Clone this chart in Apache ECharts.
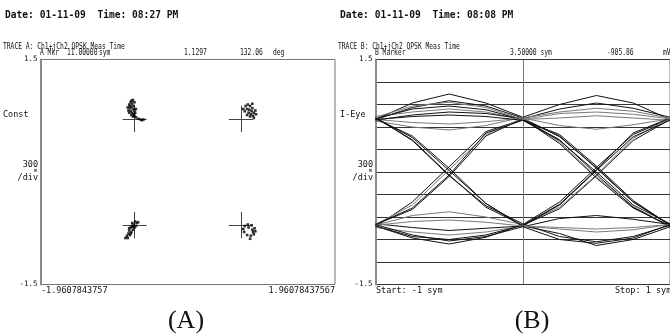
<!DOCTYPE html>
<html><head><meta charset="utf-8">
<script src="https://cdn.jsdelivr.net/npm/echarts@6/dist/echarts.min.js"></script>
<style>html,body{margin:0;padding:0;background:#fff}#c{width:670px;height:336px}</style>
</head><body><div id="c"></div>
<script>
// ---------- data ----------
const symbolTimes = [-1, -0.75, -0.5, -0.25, 0, 0.25, 0.5, 0.75, 1];
const eyeTraces = [
  [0.70, 0.86, 0.95, 0.88, 0.72, 0.47, 0.06, -0.40, -0.70],
  [0.72, 0.43, -0.04, -0.47, -0.71, -0.49, -0.05, 0.42, 0.70],
  [-0.70, -0.50, -0.06, 0.48, 0.71, 0.84, 0.92, 0.85, 0.73],
  [-0.72, -0.88, -0.96, -0.87, -0.70, -0.40, 0.06, 0.50, 0.71],
  [0.68, 0.60, 0.56, 0.62, 0.73, 0.40, -0.06, -0.46, -0.72],
  [0.74, 0.80, 0.84, 0.80, 0.70, 0.72, 0.75, 0.72, 0.69],
  [-0.69, -0.74, -0.78, -0.75, -0.72, -0.82, -0.98, -0.90, -0.73],
  [0.71, 0.48, 0.05, -0.42, -0.73, -0.62, -0.58, -0.63, -0.70],
  [-0.73, -0.40, 0.07, 0.54, 0.70, 0.48, 0.05, -0.40, -0.71],
  [0.70, 0.92, 1.04, 0.92, 0.73, 0.90, 1.02, 0.92, 0.70],
  [-0.71, -0.58, -0.53, -0.60, -0.70, -0.47, -0.04, 0.45, 0.72],
  [0.69, 0.76, 0.80, 0.78, 0.71, 0.38, -0.08, -0.48, -0.72],
  [-0.70, -0.44, 0.03, 0.50, 0.72, 0.62, 0.57, 0.63, 0.71],
  [0.73, 0.42, -0.05, -0.45, -0.69, -0.86, -0.93, -0.86, -0.71],
  [-0.74, -0.80, -0.84, -0.80, -0.72, -0.76, -0.80, -0.77, -0.70],
  [0.70, 0.66, 0.64, 0.67, 0.72, 0.80, 0.85, 0.81, 0.72],
  [-0.70, -0.48, -0.04, 0.52, 0.69, 0.42, 0.00, -0.44, -0.69],
  [0.72, 0.46, 0.02, -0.42, -0.72, -0.44, 0.02, 0.47, 0.69],
  [-0.72, -0.86, -0.90, -0.84, -0.71, -0.43, 0.03, 0.52, 0.72],
  [0.71, 0.84, 0.88, 0.83, 0.70, 0.43, -0.03, -0.47, -0.73],
  [0.70, 0.74, 0.76, 0.74, 0.69, 0.50, 0.08, -0.38, -0.71],
  [-0.71, -0.66, -0.64, -0.67, -0.72, -0.74, -0.76, -0.74, -0.70],
  [0.73, 0.88, 0.93, 0.86, 0.70, 0.78, 0.80, 0.77, 0.71],
  [-0.70, -0.84, -0.92, -0.86, -0.73, -0.90, -0.95, -0.88, -0.70]
];
const eyeTraceGray = [4, 5, 10, 12, 14, 15, 21, 22];

const idealPoints = [[-0.707, 0.707], [0.707, 0.707], [-0.707, -0.707], [0.707, -0.707]];
const constPoints = [
  // upper-left
  [-0.80,0.86],[-0.78,0.90],[-0.76,0.93],[-0.74,0.91],[-0.72,0.88],[-0.79,0.82],[-0.77,0.85],[-0.75,0.87],
  [-0.73,0.84],[-0.71,0.82],[-0.78,0.79],[-0.76,0.81],[-0.74,0.79],[-0.72,0.77],[-0.70,0.79],[-0.75,0.76],
  [-0.73,0.74],[-0.71,0.75],[-0.69,0.73],[-0.77,0.88],[-0.75,0.95],[-0.73,0.96],[-0.71,0.93],[-0.69,0.84],
  [-0.66,0.71],[-0.63,0.70],[-0.61,0.69],[-0.59,0.70],
  // upper-right
  [0.77,0.88],[0.80,0.90],[0.83,0.88],[0.86,0.85],[0.79,0.84],[0.82,0.83],[0.85,0.81],[0.88,0.79],
  [0.76,0.81],[0.81,0.79],[0.84,0.77],[0.87,0.75],[0.90,0.82],[0.79,0.76],[0.83,0.74],[0.88,0.72],
  [0.74,0.84],[0.91,0.77],[0.86,0.91],
  // lower-left
  [-0.70,-0.66],[-0.68,-0.68],[-0.72,-0.70],[-0.74,-0.72],[-0.71,-0.74],[-0.76,-0.74],[-0.73,-0.77],
  [-0.78,-0.78],[-0.75,-0.80],[-0.79,-0.82],[-0.77,-0.84],[-0.81,-0.85],[-0.80,-0.88],[-0.83,-0.88],
  [-0.69,-0.72],[-0.66,-0.67],[-0.74,-0.68],[-0.76,-0.82],[-0.78,-0.75],[-0.73,-0.73],
  // lower-right
  [0.76,-0.72],[0.80,-0.70],[0.85,-0.71],[0.89,-0.75],[0.90,-0.79],[0.88,-0.83],[0.84,-0.85],
  [0.79,-0.84],[0.75,-0.80],[0.74,-0.76],[0.86,-0.77],[0.87,-0.80],[0.83,-0.89],[0.81,-0.74]
];

const yMin = -1.5, yMax = 1.5, yStep = 0.3;
const xMinA = -1.9607843757, xMaxA = 1.96078437567;
const xLabelsA = ['-1.9607843757', '1.96078437567'];
const xLabelsB = ['Start: -1 sym', 'Stop: 1 sym'];
const headerA = 'Date: 01-11-09  Time: 08:27 PM';
const headerB = 'Date: 01-11-09  Time: 08:08 PM';
const traceTitleA = 'TRACE A: Ch1+jCh2 QPSK Meas Time';
const traceTitleB = 'TRACE B: Ch1+jCh2 QPSK Meas Time';
const markerA = ['A Mkr', '11.00000', 'sym', '1.1297', '132.06', 'deg'];
const markerB = ['B Marker', '3.50000 sym', '-905.86', 'mV'];
const yNameA = 'Const', yNameB = 'I-Eye';
const scaleLabel = ['300', 'm', '/div'];
const panelLabels = ['(A)', '(B)'];

// ---------- chart ----------
const MONO = 'DejaVu Sans Mono';
function txt(text, x, y, opt) {
  opt = opt || {};
  return { type: 'text', x: x, y: y, silent: true, scaleX: opt.sx || 1,
    style: { text: text, fill: '#111', font: (opt.bold ? 'bold ' : '') + (opt.size || 8) + 'px ' + (opt.family || MONO),
      align: opt.align || 'left', verticalAlign: 'middle' } };
}
const small = (t, x, y, a) => txt(t, x, y, { size: 8, sx: 0.79, align: a });
const mid = (t, x, y, a) => txt(t, x, y, { size: 8.5, align: a });
const yLabelFmt = v => (Math.abs(v - yMax) < 1e-6 ? String(yMax) : (Math.abs(v - yMin) < 1e-6 ? String(yMin) : ''));

const crossD = 0.16;
const crossLines = [];
idealPoints.forEach(p => {
  crossLines.push({ coords: [[p[0] - crossD, p[1]], [p[0] + crossD, p[1]]] });
  crossLines.push({ coords: [[p[0], p[1] - crossD * 1.1], [p[0], p[1] + crossD * 1.1]] });
});

const series = [
  { type: 'lines', coordinateSystem: 'cartesian2d', xAxisIndex: 0, yAxisIndex: 0, data: crossLines,
    lineStyle: { color: '#444', width: 1, opacity: 1 }, silent: true, z: 3 },
  { type: 'scatter', xAxisIndex: 0, yAxisIndex: 0, data: constPoints, symbol: 'rect', symbolSize: 2.6,
    itemStyle: { color: '#000' }, silent: true, z: 4 }
];
eyeTraces.forEach((tr, i) => {
  series.push({ type: 'line', xAxisIndex: 1, yAxisIndex: 1, showSymbol: false, silent: true,
    data: tr.map((v, k) => [symbolTimes[k], v]),
    lineStyle: { color: eyeTraceGray.indexOf(i) >= 0 ? '#7a7a7a' : '#111', width: 1 }, z: 3 });
});

const axisCommonY = {
  type: 'value', min: yMin, max: yMax, interval: yStep,
  axisLine: { show: true, onZero: false, lineStyle: { color: '#8a8a8a', width: 2 } },
  axisTick: { show: false },
  axisLabel: { formatter: yLabelFmt, fontSize: 7.5, fontFamily: MONO, color: '#111', margin: 3 }
};

const option = {
  animation: false,
  backgroundColor: '#fff',
  grid: [
    { left: 40.5, right: 335, top: 59.5, bottom: 51.5, show: true, borderColor: '#777', borderWidth: 1, backgroundColor: '#fff' },
    { left: 375.5, right: -1, top: 59.5, bottom: 51.5, show: true, borderColor: '#777', borderWidth: 1, backgroundColor: '#fff' }
  ],
  xAxis: [
    { type: 'value', gridIndex: 0, min: xMinA, max: xMaxA, axisLine: { show: false }, axisTick: { show: false },
      axisLabel: { show: false }, splitLine: { show: false } },
    { type: 'value', gridIndex: 1, min: -1, max: 1, interval: 1, axisLine: { show: false }, axisTick: { show: false },
      axisLabel: { show: false }, splitLine: { show: true, lineStyle: { color: '#777', width: 1 } } }
  ],
  yAxis: [
    Object.assign({}, axisCommonY, { gridIndex: 0, splitLine: { show: false } }),
    Object.assign({}, axisCommonY, { gridIndex: 1, splitLine: { show: true, lineStyle: { color: '#333', width: 1 } } })
  ],
  series: series,
  graphic: [
    txt(headerA, 5, 15, { bold: true, size: 9.6 }),
    txt(headerB, 340, 15, { bold: true, size: 9.6 }),
    small(traceTitleA, 3, 47),
    small(traceTitleB, 338, 47),
    small(markerA[0], 40, 53), small(markerA[1], 67, 53), small(markerA[2], 99, 53),
    small(markerA[3], 184, 53), small(markerA[4], 240, 53), small(markerA[5], 273, 53),
    small(markerB[0], 375, 53), small(markerB[1], 510, 53), small(markerB[2], 607, 53), small(markerB[3], 663, 53),
    mid(yNameA, 3, 115), mid(yNameB, 340, 115),
    mid(scaleLabel[0], 38, 165, 'right'), txt(scaleLabel[1], 37, 171, { align: 'right', size: 5.5 }),
    mid(scaleLabel[2], 38, 178, 'right'),
    mid(scaleLabel[0], 373, 165, 'right'), txt(scaleLabel[1], 372, 171, { align: 'right', size: 5.5 }),
    mid(scaleLabel[2], 373, 178, 'right'),
    mid(xLabelsA[0], 41, 291), mid(xLabelsA[1], 335, 291, 'right'),
    mid(xLabelsB[0], 376, 291), mid(xLabelsB[1], 615, 291),
    txt(panelLabels[0], 186, 321, { size: 26, family: 'Liberation Serif', align: 'center' }),
    txt(panelLabels[1], 532, 321, { size: 26, family: 'Liberation Serif', align: 'center' })
  ]
};
echarts.init(document.getElementById('c'), null, { renderer: 'canvas' }).setOption(option);
</script></body></html>
